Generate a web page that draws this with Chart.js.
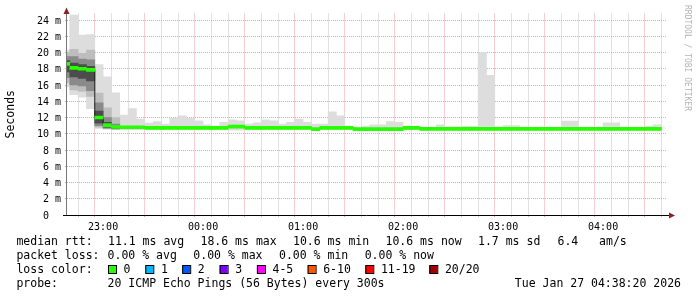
<!DOCTYPE html>
<html>
<head>
<meta charset="utf-8">
<script src="https://cdn.jsdelivr.net/npm/chart.js@4.4.1/dist/chart.umd.min.js"></script>
<style>
  html, body { margin: 0; padding: 0; background: #fff; }
  canvas { display: block; }
</style>
</head>
<body>
<canvas id="smoke" width="697" height="297"></canvas>
<script>
// end time of every 5 minute step (one column of smoke each)
const stepEnds = [
  '22:40','22:45','22:50','22:55','23:00','23:05','23:10','23:15','23:20','23:25','23:30','23:35',
  '23:40','23:45','23:50','23:55','00:00','00:05','00:10','00:15','00:20','00:25','00:30','00:35',
  '00:40','00:45','00:50','00:55','01:00','01:05','01:10','01:15','01:20','01:25','01:30','01:35',
  '01:40','01:45','01:50','01:55','02:00','02:05','02:10','02:15','02:20','02:25','02:30','02:35',
  '02:40','02:45','02:50','02:55','03:00','03:05','03:10','03:15','03:20','03:25','03:30','03:35',
  '03:40','03:45','03:50','03:55','04:00','04:05','04:10','04:15','04:20','04:25','04:30','04:35'
];

// median rtt per step (ms)
const medianRtt = [
  18.6, 18.1, 18.0, 17.85, 12.0, 11.05, 10.85, 10.8, 10.8, 10.8,
  10.72, 10.72, 10.72, 10.72, 10.72, 10.72, 10.72, 10.72, 10.72, 10.72,
  10.88, 10.88, 10.72, 10.72, 10.72, 10.72, 10.72, 10.72, 10.72, 10.72,
  10.56, 10.72, 10.72, 10.72, 10.72, 10.58, 10.58, 10.58, 10.58, 10.58,
  10.58, 10.72, 10.72, 10.6, 10.6, 10.6, 10.6, 10.6, 10.6, 10.6,
  10.6, 10.6, 10.6, 10.6, 10.6, 10.6, 10.6, 10.6, 10.6, 10.6,
  10.6, 10.6, 10.6, 10.6, 10.6, 10.6, 10.6, 10.6, 10.6, 10.6,
  10.6, 10.6
];

// fastest and slowest ping per step (ms)
const minRtt = [
  15.8, 14.8, 14.5, 13.1, 10.65, 10.6, 10.55, 10.5, 10.5, 10.5,
  10.5, 10.5, 10.5, 10.5, 10.5, 10.5, 10.5, 10.5, 10.5, 10.5,
  10.45, 10.45, 10.5, 10.5, 10.5, 10.5, 10.5, 10.5, 10.5, 10.5,
  10.4, 10.5, 10.5, 10.5, 10.5, 10.42, 10.42, 10.42, 10.42, 10.42,
  10.42, 10.5, 10.5, 10.45, 10.45, 10.45, 10.45, 10.45, 10.45, 10.45,
  10.45, 10.45, 10.45, 10.45, 10.45, 10.45, 10.45, 10.45, 10.45, 10.45,
  10.45, 10.45, 10.45, 10.45, 10.45, 10.45, 10.45, 10.45, 10.45, 10.45,
  10.45, 10.45
];
const maxRtt = [
  20.3, 24.6, 22.15, 22.2, 18.5, 17.0, 15.05, 12.3, 13.1, 11.8,
  11.3, 11.5, 11.2, 11.9, 12.2, 11.9, 11.6, 11.1, 10.95, 11.4,
  11.7, 11.6, 11.2, 11.35, 11.7, 11.6, 11.2, 11.4, 11.8, 11.4,
  11.2, 11.2, 12.7, 12.2, 10.95, 10.8, 10.95, 11.1, 11.1, 11.5,
  11.4, 10.95, 10.85, 10.8, 10.8, 11.1, 10.85, 10.85, 10.9, 10.9,
  20.0, 17.2, 10.85, 11.0, 11.0, 10.8, 10.8, 10.8, 10.8, 10.8,
  11.55, 11.55, 10.8, 10.8, 10.8, 11.35, 11.35, 10.8, 10.8, 10.8,
  10.95, 11.1
];

// denser smoke, only visible in the first steps
const midLow   = [16.3, 15.4, 15.2, 14.6, 10.8, 10.6, 10.55];
const midHigh  = [20.0, 20.4, 19.9, 20.3, 15.0, 13.2, 12.0];
const darkLow  = [16.9, 16.0, 15.9, 15.3, 11.0, 10.7, 10.6];
const darkHigh = [19.5, 19.5, 19.2, 19.1, 13.8, 12.0, 11.2];
const coreLow  = [17.6, 17.0, 16.8, 16.5, 11.3, 10.8, 10.65];
const coreHigh = [19.0, 18.7, 18.5, 18.3, 12.8, 11.4, 10.95];

// axes
const hourTicks  = [60, 120, 180, 240, 300, 360];      // minutes after 22:00
const hourLabels = ['23:00', '00:00', '01:00', '02:00', '03:00', '04:00'];
const yTickValues = [0, 2, 4, 6, 8, 10, 12, 14, 16, 18, 20, 22, 24];
const yTickLabels = ['0  ', '2 m', '4 m', '6 m', '8 m', '10 m', '12 m', '14 m', '16 m', '18 m', '20 m', '22 m', '24 m'];

// legend texts
const rttStats  = ['11.1 ms avg', '18.6 ms max', '10.6 ms min', '10.6 ms now', '1.7 ms sd', '6.4   am/s'];
const lossStats = ['0.00 % avg', '0.00 % max', '0.00 % min', '0.00 % now'];
const lossNames  = ['0', '1', '2', '3', '4-5', '6-10', '11-19', '20/20'];
const lossColors = ['#26ff00', '#00b8ff', '#0059ff', '#7e00ff', '#ff00ff', '#ff5500', '#ff0000', '#a10000'];
const probeText = '20 ICMP Echo Pings (56 Bytes) every 300s';
const stampText = 'Tue Jan 27 04:38:20 2026';

// time of day -> minutes after 22:00, centre of the step
function stepCentre(t) {
  const [h, m] = t.split(':').map(Number);
  const mins = h >= 22 ? (h - 22) * 60 + m : (h + 2) * 60 + m;
  return mins - 2.5;
}
const xs = stepEnds.map(stepCentre);

const MONO = '"DejaVu Sans Mono", "Liberation Mono", monospace';
const BAND = 0.19; // half height of the loss coloured median band
const MAJOR = '#f2a0a0';
const MINOR = '#c4c4c4';

function rangeData(lo, hi) {
  return lo.map((v, i) => ({ x: xs[i], y: [v, hi[i]] }));
}

function smokeSet(lo, hi, color, order) {
  return {
    type: 'bar',
    data: rangeData(lo, hi),
    backgroundColor: color,
    borderWidth: 0,
    grouped: false,
    categoryPercentage: 1,
    barPercentage: 1,
    clip: 0,
    order: order
  };
}

const decor = {
  id: 'smokepingDecor',
  afterDraw(chart) {
    const ctx = chart.ctx;
    const a = chart.chartArea;
    ctx.save();

    // axis lines
    ctx.lineWidth = 1;
    ctx.strokeStyle = '#777';
    ctx.beginPath();
    ctx.moveTo(a.left - 0.5, a.bottom);
    ctx.lineTo(a.left - 0.5, a.top - 2);
    ctx.stroke();
    ctx.strokeStyle = '#000';
    ctx.beginPath();
    ctx.moveTo(a.left - 4, a.bottom + 0.5);
    ctx.lineTo(a.right + 3, a.bottom + 0.5);
    ctx.stroke();

    // arrows
    ctx.fillStyle = '#8b2020';
    ctx.beginPath();
    ctx.moveTo(a.left - 0.5, a.top - 6);
    ctx.lineTo(a.left + 2.5, a.top + 0.5);
    ctx.lineTo(a.left - 3.5, a.top + 0.5);
    ctx.closePath();
    ctx.fill();
    ctx.beginPath();
    ctx.moveTo(a.right + 8, a.bottom + 0.5);
    ctx.lineTo(a.right + 2, a.bottom - 2.5);
    ctx.lineTo(a.right + 2, a.bottom + 3.5);
    ctx.closePath();
    ctx.fill();

    // watermark
    ctx.save();
    ctx.translate(687, 5);
    ctx.rotate(Math.PI / 2);
    ctx.font = '8px ' + MONO;
    ctx.fillStyle = '#b4b4b4';
    ctx.textBaseline = 'middle';
    ctx.textAlign = 'left';
    ctx.fillText('RRDTOOL / TOBI OETIKER', 0, 0);
    ctx.restore();

    // legend
    ctx.font = '11.5px ' + MONO;
    ctx.fillStyle = '#000';
    ctx.textBaseline = 'alphabetic';
    ctx.textAlign = 'left';
    const x0 = 16.4;
    const rows = [245, 259, 273, 287];

    ctx.fillText('median rtt:', x0, rows[0]);
    [108, 200.5, 293, 385.5, 478, 557.5].forEach((x, i) => ctx.fillText(rttStats[i], x, rows[0]));

    ctx.fillText('packet loss:', x0, rows[1]);
    [107.6, 193.3, 279, 364.7].forEach((x, i) => ctx.fillText(lossStats[i], x, rows[1]));

    ctx.fillText('loss color:', x0, rows[2]);
    [108, 145.3, 182.2, 219.6, 256.9, 307.6, 365.3, 429.3].forEach((x, i) => {
      ctx.fillStyle = lossColors[i];
      ctx.fillRect(x, 265.5, 8, 8);
      ctx.strokeStyle = '#000';
      ctx.lineWidth = 1;
      ctx.strokeRect(x + 0.5, 265.5, 8, 8);
      ctx.fillStyle = '#000';
      ctx.fillText(lossNames[i], x + 15.6, rows[2]);
    });

    ctx.fillText('probe:', x0, rows[3]);
    ctx.fillText(probeText, 107.6, rows[3]);
    ctx.textAlign = 'right';
    ctx.fillText(stampText, 681, rows[3]);

    ctx.restore();
  }
};

new Chart(document.getElementById('smoke'), {
  type: 'bar',
  data: {
    datasets: [
      {
        type: 'bar',
        data: medianRtt.map((m, i) => ({ x: xs[i], y: [m - BAND, m + BAND] })),
        backgroundColor: lossColors[0],
        borderWidth: 0,
        grouped: false,
        categoryPercentage: 1,
        barPercentage: 1,
        clip: 0,
        order: 0
      },
      {
        type: 'line',
        data: medianRtt.map((m, i) => ({ x: xs[i], y: m })),
        borderColor: '#202020',
        borderWidth: 1,
        stepped: 'middle',
        pointRadius: 0,
        fill: false,
        clip: 0,
        order: 1
      },
      smokeSet(coreLow, coreHigh, '#4c4c4c', 2),
      smokeSet(darkLow, darkHigh, '#8a8a8a', 3),
      smokeSet(midLow, midHigh, '#bdbdbd', 4),
      smokeSet(minRtt, maxRtt, '#dddddd', 5)
    ]
  },
  options: {
    responsive: false,
    animation: false,
    devicePixelRatio: 1,
    layout: { padding: { left: 0, top: 13.5, right: 30, bottom: 0 } },
    plugins: {
      legend: { display: false },
      tooltip: { enabled: false }
    },
    scales: {
      x: {
        type: 'linear',
        min: 38 + 1 / 3,
        max: 398 + 1 / 3,
        offset: false,
        z: 1,
        afterBuildTicks: (scale) => {
          const t = [];
          for (let v = 40; v <= 390; v += 10) t.push({ value: v });
          scale.ticks = t;
        },
        afterFit: (scale) => { scale.height = 82; },
        border: { display: false, dash: [1, 1] },
        grid: {
          color: (c) => (c.tick && c.tick.value % 30 === 0 ? MAJOR : MINOR),
          lineWidth: 1,
          tickLength: 2
        },
        ticks: {
          autoSkip: false,
          maxRotation: 0,
          padding: 4,
          color: '#000',
          font: { family: MONO, size: 10 },
          callback: (v) => {
            const i = hourTicks.indexOf(v);
            return i >= 0 ? hourLabels[i] : '';
          }
        }
      },
      y: {
        type: 'linear',
        min: 0,
        max: 24.8,
        z: 1,
        afterBuildTicks: (scale) => {
          const t = [];
          for (let v = 0; v <= 24; v += 1) t.push({ value: v });
          scale.ticks = t;
        },
        afterFit: (scale) => { scale.width = 67; },
        border: { display: false, dash: [1, 1] },
        grid: {
          color: (c) => (c.tick && c.tick.value % 2 === 0 ? MAJOR : MINOR),
          lineWidth: 1,
          tickLength: 2
        },
        title: {
          display: true,
          text: 'Seconds',
          color: '#000',
          font: { family: MONO, size: 11.5 },
          padding: { top: 4, bottom: 0 }
        },
        ticks: {
          padding: 4,
          labelOffset: 1,
          color: '#000',
          font: { family: MONO, size: 10 },
          callback: (v) => {
            const i = yTickValues.indexOf(v);
            return i >= 0 ? yTickLabels[i] : '';
          }
        }
      }
    }
  },
  plugins: [decor]
});
</script>
</body>
</html>
